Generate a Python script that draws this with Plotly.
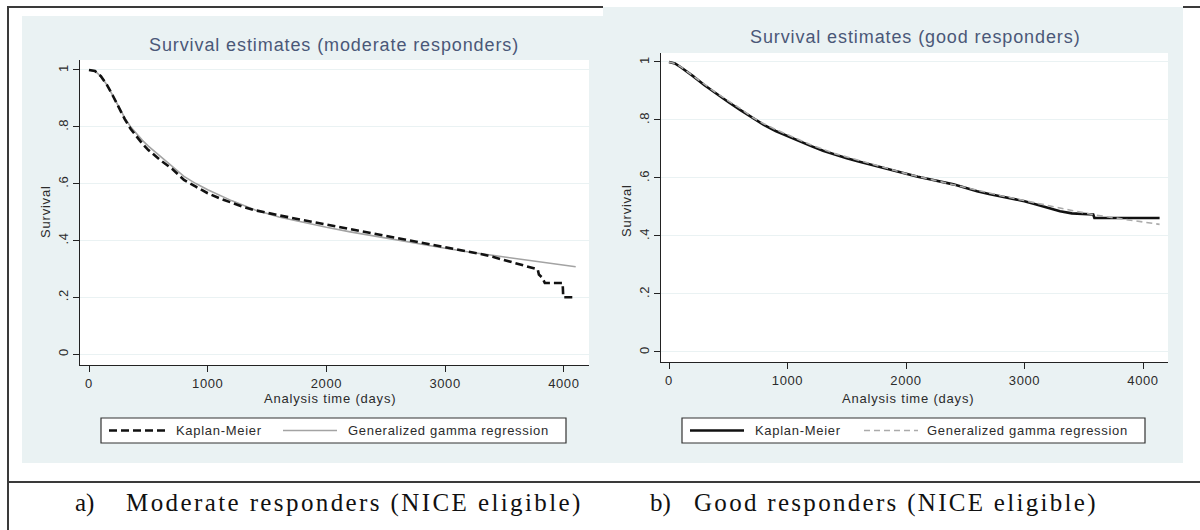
import plotly.graph_objects as go

# ---- data: moderate responders ----
mod_gg_days = [0, 50, 100, 150, 200, 250, 300, 350, 400, 450, 500, 600, 700, 800, 900, 1000,
               1200, 1400, 1600, 1800, 2000, 2200, 2400, 2600, 2800, 3000, 3200, 3400, 3600,
               3800, 4000, 4100]
mod_gg_surv = [1.0, 0.996, 0.978, 0.948, 0.91, 0.87, 0.832, 0.80, 0.775, 0.752, 0.732, 0.697,
               0.66, 0.625, 0.60, 0.578, 0.54, 0.507, 0.482, 0.463, 0.446, 0.43, 0.415, 0.40,
               0.386, 0.372, 0.359, 0.347, 0.335, 0.323, 0.312, 0.307]

# Kaplan-Meier estimate; repeated times mark the drops in the sparse tail
mod_km_days = [0, 50, 100, 150, 200, 250, 300, 350, 400, 450, 500, 600, 700, 800, 900, 1000,
               1100, 1200, 1300, 1400, 1500, 1600, 1700, 1800, 1900, 2000, 2100, 2200, 2300,
               2400, 2500, 2600, 2700, 2800, 2900, 3000, 3100, 3200, 3300, 3400, 3500, 3600,
               3700, 3780, 3790, 3820, 3840, 3990, 3995, 4100]
mod_km_surv = [1.0, 0.996, 0.978, 0.948, 0.91, 0.868, 0.828, 0.793, 0.765, 0.74, 0.718, 0.683,
               0.652, 0.613, 0.589, 0.566, 0.548, 0.532, 0.518, 0.506, 0.496, 0.488, 0.48,
               0.472, 0.464, 0.456, 0.448, 0.44, 0.432, 0.424, 0.417, 0.409, 0.401, 0.393,
               0.385, 0.377, 0.37, 0.362, 0.352, 0.342, 0.33, 0.318, 0.306, 0.298, 0.28,
               0.268, 0.25, 0.25, 0.2, 0.2]

# ---- data: good responders ----
good_gg_days = [0, 50, 100, 200, 300, 400, 500, 600, 700, 800, 900, 1000, 1200, 1400, 1600,
                1800, 2000, 2200, 2400, 2600, 2800, 3000, 3200, 3400, 3600, 3800, 4000, 4140]
good_gg_surv = [1.0, 0.995, 0.983, 0.952, 0.922, 0.893, 0.866, 0.84, 0.81, 0.787, 0.767, 0.749,
                0.714, 0.684, 0.661, 0.638, 0.615, 0.596, 0.577, 0.556, 0.539, 0.522, 0.504,
                0.488, 0.472, 0.46, 0.449, 0.44]

good_km_days = [0, 50, 100, 150, 200, 300, 400, 500, 600, 700, 800, 900, 1000, 1100, 1200,
                1300, 1400, 1500, 1600, 1700, 1800, 1900, 2000, 2100, 2200, 2300, 2400, 2500,
                2600, 2700, 2800, 2900, 3000, 3100, 3200, 3300, 3400, 3480, 3580, 3590, 3700,
                4140]
good_km_surv = [1.0, 0.995, 0.982, 0.968, 0.952, 0.92, 0.89, 0.862, 0.835, 0.808, 0.783, 0.762,
                0.744, 0.727, 0.71, 0.694, 0.68, 0.668, 0.657, 0.646, 0.635, 0.624, 0.613,
                0.604, 0.596, 0.588, 0.578, 0.566, 0.554, 0.545, 0.537, 0.528, 0.52, 0.509,
                0.496, 0.485, 0.478, 0.476, 0.474, 0.462, 0.462, 0.462]

x_ticks = [0, 1000, 2000, 3000, 4000]
y_ticks = [0, 0.2, 0.4, 0.6, 0.8, 1]
y_tick_text = ["0", ".2", ".4", ".6", ".8", "1"]

panel_titles = ["Survival estimates (moderate responders)", "Survival estimates (good responders)"]
x_title = "Analysis time (days)"
y_title = "Survival"
legend_labels = ["Kaplan-Meier", "Generalized gamma regression"]
captions = [("a)", "Moderate responders (NICE eligible)"), ("b)", "Good responders (NICE eligible)")]

W, H = 1200, 530
BG = "rgb(234,242,243)"
GRID = "rgb(234,242,243)"
TITLE_C = "#4a5878"
TXT_C = "#2b2b2b"
SANS = "Liberation Sans, Arial, sans-serif"
SERIF = "Liberation Serif, Times New Roman, serif"


def px(x):
    return x / W


def py(y):
    return 1 - y / H


def spaced(s, ls):
    return f'<span style="letter-spacing:{ls}px">{s}</span>'


fig = go.Figure()

# left panel curves
fig.add_trace(go.Scatter(x=mod_gg_days, y=mod_gg_surv, mode="lines", xaxis="x", yaxis="y",
                         line=dict(color="#a3a3a3", width=1.6), showlegend=False))
fig.add_trace(go.Scatter(x=mod_km_days, y=mod_km_surv, mode="lines", xaxis="x", yaxis="y",
                         line=dict(color="#111111", width=2.6, dash="8px,4px"),
                         showlegend=False))
# right panel curves
fig.add_trace(go.Scatter(x=good_km_days, y=good_km_surv, mode="lines", xaxis="x2", yaxis="y2",
                         line=dict(color="#111111", width=2.6), showlegend=False))
fig.add_trace(go.Scatter(x=good_gg_days, y=good_gg_surv, mode="lines", xaxis="x2", yaxis="y2",
                         line=dict(color="#ababab", width=1.6, dash="6px,4px"), showlegend=False))

axis_font = dict(family=SANS, size=13, color=TXT_C)
x_tick_text = [spaced(str(v), 0.6) for v in x_ticks]
y_tick_lbl = [spaced(t, 0.6) for t in y_tick_text]


def xaxis_cfg(dom, rng, anchor):
    return dict(domain=dom, range=rng, anchor=anchor, tickvals=x_ticks, ticktext=x_tick_text,
                ticks="outside", ticklen=6, tickcolor="#222", showline=True, linecolor="#222",
                linewidth=1, showgrid=False, zeroline=False, tickfont=axis_font)


def yaxis_cfg(dom, rng, anchor):
    return dict(domain=dom, range=rng, anchor=anchor, tickvals=y_ticks, ticktext=y_tick_lbl,
                tickangle=-90, ticks="outside", ticklen=6, tickcolor="#222", showline=True,
                linecolor="#222", linewidth=1, showgrid=True, gridcolor=GRID, gridwidth=1,
                zeroline=False, tickfont=axis_font)


# plot areas in pixel positions
L = dict(x0=80, x1=589, y0=60, y1=365)
R = dict(x0=661, x1=1168, y0=53, y1=362)

fig.update_layout(
    width=W, height=H, margin=dict(l=0, r=0, t=0, b=0),
    paper_bgcolor="white", plot_bgcolor="rgba(0,0,0,0)",
    xaxis=xaxis_cfg([px(L["x0"]), px(L["x1"])], [-75.8, 4212], "y"),
    yaxis=yaxis_cfg([py(L["y1"]), py(L["y0"])], [-0.0387, 1.035], "x"),
    xaxis2=xaxis_cfg([px(R["x0"]), px(R["x1"])], [-67.5, 4211], "y2"),
    yaxis2=yaxis_cfg([py(R["y1"]), py(R["y0"])], [-0.0345, 1.031], "x2"),
)

shapes = []


def rect(x0, y0, x1, y1, fill, line_color=None, lw=0, layer="below"):
    shapes.append(dict(type="rect", xref="paper", yref="paper", x0=px(x0), x1=px(x1),
                       y0=py(y1), y1=py(y0), fillcolor=fill, layer=layer,
                       line=dict(color=line_color or fill, width=lw)))


def hline(x0, x1, y, color, width, dash="solid", layer="above"):
    shapes.append(dict(type="line", xref="paper", yref="paper", x0=px(x0), x1=px(x1),
                       y0=py(y), y1=py(y), layer=layer,
                       line=dict(color=color, width=width, dash=dash)))


def vline(x, y0, y1, color, width):
    shapes.append(dict(type="line", xref="paper", yref="paper", x0=px(x), x1=px(x),
                       y0=py(y0), y1=py(y1), line=dict(color=color, width=width)))


# graph region backgrounds and white plot regions
rect(22, 16, 603, 463, BG)
rect(603, 7, 1183, 463, BG)
rect(L["x0"], L["y0"], L["x1"], L["y1"], "white")
rect(R["x0"], R["y0"], R["x1"], R["y1"], "white")

# page frame lines
hline(8, 603, 7, "#3a3a3a", 2)
hline(1183, 1200, 7, "#3a3a3a", 2)
vline(8, 6, 530, "#3a3a3a", 2)
hline(7, 1200, 482, "#3a3a3a", 2)

# legend boxes
rect(101, 418, 566, 443, "white", "#333333", 1.2, layer="above")
rect(682, 418, 1145, 443, "white", "#333333", 1.2, layer="above")
hline(109, 168, 430.5, "#111111", 2.6, "8px,4px")
hline(283, 337, 430.5, "#a3a3a3", 1.6)
hline(690, 744, 430.5, "#111111", 2.6)
hline(864, 918, 430.5, "#ababab", 1.6, "6px,4px")

fig.update_layout(shapes=shapes)

ann = []


def text(x, y, s, size, color, family=SANS, xanchor="center", angle=0):
    ann.append(dict(x=px(x), y=py(y), xref="paper", yref="paper", text=s, showarrow=False,
                    xanchor=xanchor, yanchor="middle", textangle=angle,
                    font=dict(family=family, size=size, color=color)))


text(334, 45, spaced(panel_titles[0], 0.9), 18, TITLE_C)
text(915, 37, spaced(panel_titles[1], 0.9), 18, TITLE_C)
text(330, 398, spaced(x_title, 0.8), 13, TXT_C)
text(908, 398, spaced(x_title, 0.8), 13, TXT_C)
text(45, 212, spaced(y_title, 0.8), 13, TXT_C, angle=-90)
text(626, 210, spaced(y_title, 0.8), 13, TXT_C, angle=-90)

text(174, 430.5, spaced(legend_labels[0], 0.7), 13, TXT_C, xanchor="left")
text(346, 430.5, spaced(legend_labels[1], 0.7), 13, TXT_C, xanchor="left")
text(753, 430.5, spaced(legend_labels[0], 0.7), 13, TXT_C, xanchor="left")
text(925, 430.5, spaced(legend_labels[1], 0.7), 13, TXT_C, xanchor="left")

text(73, 503, captions[0][0], 25, "#111111", SERIF, xanchor="left")
text(124, 503, spaced(captions[0][1], 2.4), 25, "#111111", SERIF, xanchor="left")
text(648, 503, captions[1][0], 25, "#111111", SERIF, xanchor="left")
text(692, 503, spaced(captions[1][1], 2.3), 25, "#111111", SERIF, xanchor="left")

fig.update_layout(annotations=ann)

fig.write_html("out.html")
